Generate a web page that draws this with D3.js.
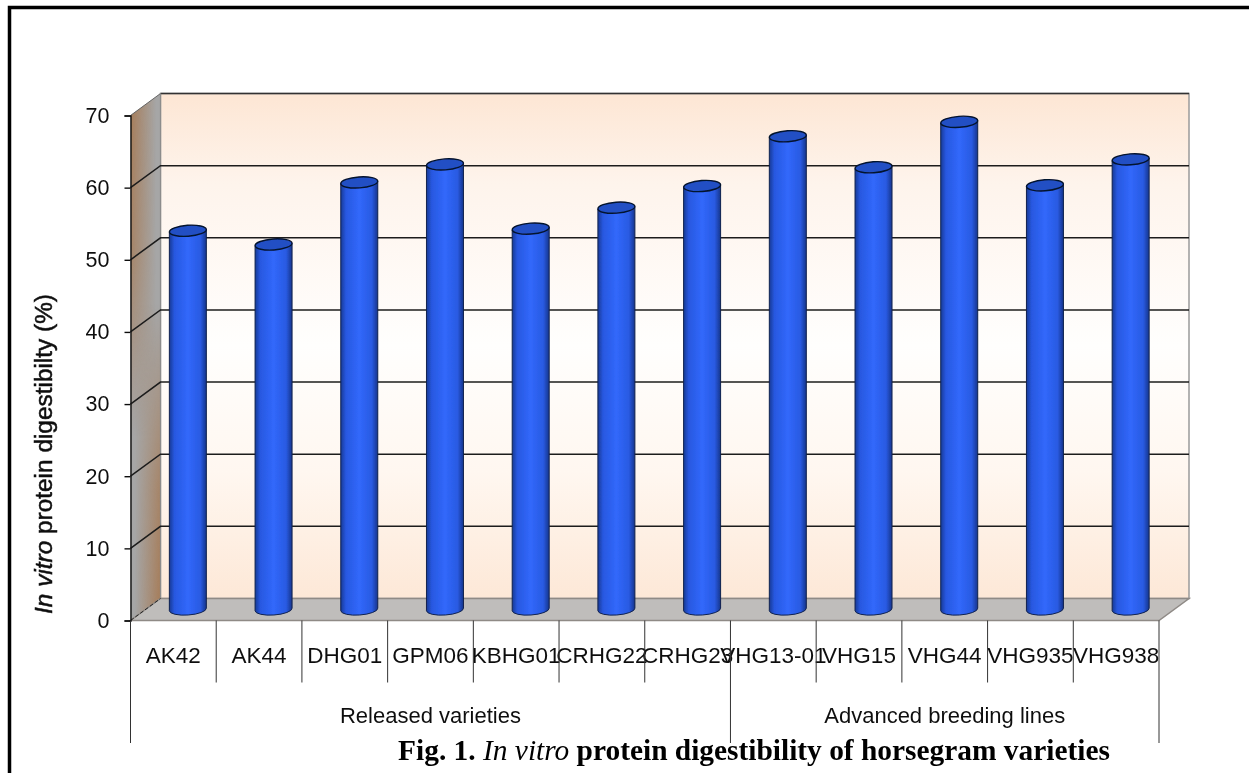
<!DOCTYPE html>
<html><head><meta charset="utf-8">
<script src="https://cdn.jsdelivr.net/npm/d3@7/dist/d3.min.js"></script>
<style>html,body{margin:0;padding:0;background:#fff}svg{display:block}text{font-family:"Liberation Sans",Arial,sans-serif;fill:#111}</style>
</head><body><div id="chart"></div>
<script>
const categories = ["AK42","AK44","DHG01","GPM06","KBHG01","CRHG22","CRHG23","VHG13-01","VHG15","VHG44","VHG935","VHG938"];
const digestibility = [52.5,50.6,59.2,61.7,52.8,55.7,58.7,65.6,61.3,67.6,58.8,62.4];
const groupNames = ["Released varieties","Advanced breeding lines"];
const groupSpans = [[0,6],[7,11]];
const yTicks = [0,10,20,30,40,50,60,70];

const W=1249,H=773;
const svg=d3.select("#chart").append("svg").attr("width",W).attr("height",H);
const defs=svg.append("defs");
const x=d3.scaleBand().domain(categories).range([130.5,1159]);
const y=d3.scaleLinear().domain([0,70]).range([620.5,115.5]);
const dx=30,dy=-22;
function grad(id,x2,y2,stops){
  const g=defs.append("linearGradient").attr("id",id).attr("x1",0).attr("y1",0).attr("x2",x2).attr("y2",y2);
  stops.forEach(s=>g.append("stop").attr("offset",s[0]).attr("stop-color",s[1]).attr("stop-opacity",s[2]===undefined?1:s[2]));
}
grad("wall",0,1,[[0,"#fde6d4"],[0.18,"#fef4ec"],[0.5,"#fffefd"],[0.75,"#fff7f0"],[1,"#fde8d7"]]);
grad("brownL",1,0,[[0,"#a67c58",1],[0.85,"#a67c58",0]]);
grad("brownR",1,0,[[0.15,"#a67c58",0],[1,"#a67c58",1]]);
grad("fadeTop",0,1,[[0,"#fff"],[0.3,"#ccc"],[0.65,"#000"]]);
grad("fadeBot",0,1,[[0.4,"#000"],[0.75,"#ccc"],[1,"#fff"]]);
grad("body",1,0,[[0,"#173a96"],[0.14,"#2858e0"],[0.5,"#3168fb"],[0.84,"#295ae2"],[1,"#16358c"]]);
defs.append("filter").attr("id","soft").attr("x",0).attr("y",0).attr("width",1).attr("height",1)
  .attr("filterUnits","objectBoundingBox")
  .append("feGaussianBlur").attr("stdDeviation",0.45);

const root=svg.append("g").attr("filter","url(#soft)");
root.append("rect").attr("width",W).attr("height",H).attr("fill","#fff");
// frame
root.append("path").attr("d",`M9.5,${H} V7.5 H${W}`).attr("fill","none").attr("stroke","#000").attr("stroke-width",3.5);

const x0=x.range()[0],x1=x.range()[1],y0=y(0),yT=y(70);
// back wall
root.append("rect").attr("x",x0+dx).attr("y",yT+dy).attr("width",x1-x0).attr("height",y0-yT)
  .attr("fill","url(#wall)").attr("stroke","#9a9a9a").attr("stroke-width",1.5);
root.append("line").attr("x1",x0+dx).attr("x2",x1+dx).attr("y1",yT+dy).attr("y2",yT+dy).attr("stroke","#333").attr("stroke-width",1.5);
// left wall: gray base with brown fading in at top left and bottom right
const wallPath=`M${x0},${yT} L${x0+dx},${yT+dy} V${y0+dy} L${x0},${y0} Z`;
root.append("path").attr("d",wallPath).attr("fill","#a6a6a6");
defs.append("clipPath").attr("id","wallClip").append("path").attr("d",wallPath);
[["mTop","fadeTop","brownL"],["mBot","fadeBot","brownR"]].forEach(m=>{
  defs.append("mask").attr("id",m[0]).attr("maskUnits","userSpaceOnUse").attr("x",x0).attr("y",yT+dy).attr("width",dx).attr("height",y0-yT-dy)
    .append("rect").attr("x",x0).attr("y",yT+dy).attr("width",dx).attr("height",y0-yT-dy).attr("fill",`url(#${m[1]})`);
  root.append("g").attr("clip-path","url(#wallClip)").append("rect").attr("x",x0).attr("y",yT+dy).attr("width",dx).attr("height",y0-yT-dy)
    .attr("fill",`url(#${m[2]})`).attr("mask",`url(#${m[0]})`);
});
root.append("line").attr("x1",x0+dx).attr("x2",x0+dx).attr("y1",yT+dy).attr("y2",y0+dy).attr("stroke","#8c8c8c").attr("stroke-width",1.2);
// floor
root.append("path").attr("d",`M${x0},${y0} L${x0+dx},${y0+dy} H${x1+dx} L${x1},${y0} Z`)
  .attr("fill","#bfbdbb").attr("stroke","#8f8a86").attr("stroke-width",1.5);
// gridlines
yTicks.forEach(t=>{
  if(t===0||t===70) return;
  root.append("path").attr("d",`M${x0},${y(t)} L${x0+dx},${y(t)+dy} H${x1+dx}`)
    .attr("fill","none").attr("stroke","#1c1c1c").attr("stroke-width",1.5);
});
root.append("line").attr("x1",x0).attr("x2",x0+dx).attr("y1",y0).attr("y2",y0+dy).attr("stroke","#222").attr("stroke-width",1).attr("stroke-dasharray","4 2");
root.append("line").attr("x1",x0).attr("x2",x0+dx).attr("y1",yT).attr("y2",yT+dy).attr("stroke","#666").attr("stroke-width",1);

// y axis
const ax=root.append("g").attr("transform",`translate(${x0},0)`).call(d3.axisLeft(y).tickValues(yTicks).tickSize(6).tickPadding(15));
ax.selectAll("path,line").attr("stroke","#111").attr("stroke-width",1.4);
ax.selectAll("text").attr("font-size",21.5).style("font-family",'"Liberation Sans"').style("fill","#111");

// cylinders
const hw=18.5,ry=5.5,rot=-4;
const bars=root.append("g").selectAll("g").data(categories).join("g")
  .attr("transform",c=>`translate(${x(c)+x.bandwidth()/2+14.5},-11)`);
bars.append("path").attr("d",(c,i)=>{
  const top=y(digestibility[i]),b=y(0);
  return `M${-hw},${top+1.3} V${b+1.3} A${hw},${ry} -4 0 0 ${hw},${b-1.3} V${top-1.3} Z`;
}).attr("fill","url(#body)").attr("stroke","#10224f").attr("stroke-width",1);
bars.append("ellipse").attr("cx",0).attr("cy",(c,i)=>y(digestibility[i])).attr("rx",hw).attr("ry",ry)
  .attr("transform",(c,i)=>`rotate(${rot},0,${y(digestibility[i])})`)
  .attr("fill","#2150c4").attr("stroke","#06122e").attr("stroke-width",1.4);

// category labels and separators
root.append("g").selectAll("text").data(categories).join("text")
  .attr("x",c=>x(c)+x.bandwidth()/2).attr("y",663).attr("text-anchor","middle").attr("font-size",22.5).text(c=>c);
const seps=d3.range(0,13);
root.append("g").selectAll("line").data(seps).join("line")
  .attr("x1",i=>x0+i*x.step()).attr("x2",i=>x0+i*x.step()).attr("y1",y0)
  .attr("y2",i=>(i===0||i===7||i===12)?743:682.5).attr("stroke","#333").attr("stroke-width",1);
root.append("g").selectAll("text").data(groupNames).join("text")
  .attr("x",(g,i)=>(x(categories[groupSpans[i][0]])+x(categories[groupSpans[i][1]])+x.bandwidth())/2)
  .attr("y",723).attr("text-anchor","middle").attr("font-size",22).text(g=>g);

// y title
const yt=root.append("text").attr("transform","translate(52,454) rotate(-90)").attr("text-anchor","middle").attr("font-size",24.4).attr("stroke","#111").attr("stroke-width",0.5);
yt.append("tspan").attr("font-style","italic").text("In vitro");
yt.append("tspan").text(" protein digestibilty (%)");

// caption
const cap=root.append("text").attr("x",754).attr("y",760).attr("text-anchor","middle").attr("font-size",29.4).attr("font-weight","bold").style("font-family",'"Liberation Serif",serif').style("fill","#000");
cap.append("tspan").text("Fig. 1. ");
cap.append("tspan").attr("font-style","italic").attr("font-weight","normal").text("In vitro");
cap.append("tspan").text(" protein digestibility of horsegram varieties");
</script></body></html>
